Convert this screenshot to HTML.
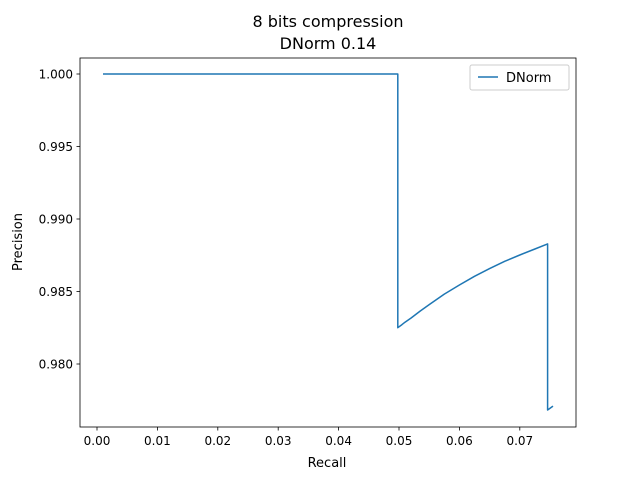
<!DOCTYPE html>
<html><head><meta charset="utf-8"><style>
body{margin:0;background:#fff;font-family:"Liberation Sans","DejaVu Sans",sans-serif}
svg text{font-family:"DejaVu Sans","Liberation Sans",sans-serif}
</style></head><body>
<svg id="chart" width="640" height="480" viewBox="0 0 640 480">
<rect width="640" height="480" fill="#fff"/>
<text x="328" y="27" text-anchor="middle" font-size="16">8 bits compression</text>
<text x="328" y="49" text-anchor="middle" font-size="16">DNorm 0.14</text>
<g id="axes"></g>
<path id="series" fill="none" stroke="#1f77b4" stroke-width="1.5" stroke-linejoin="round"/>
<rect x="80" y="58" width="496" height="369" fill="none" stroke="#000" stroke-width="0.8"/>
<g>
<rect x="470" y="65" width="99" height="25" rx="2" fill="#fff" stroke="#ccc"/>
<line x1="478" y1="77" x2="498" y2="77" stroke="#1f77b4" stroke-width="1.5"/>
<text x="506" y="82" font-size="13">DNorm</text>
</g>
<text x="327" y="467" text-anchor="middle" font-size="13">Recall</text>
<text transform="translate(22,242) rotate(-90)" text-anchor="middle" font-size="13">Precision</text>
</svg>
<script>
const recall=[0.001,0.0498,0.0498,0.0505,0.051,0.052,0.0535,0.055,0.0575,0.06,0.0625,0.065,0.0675,0.07,0.0725,0.0746,0.0746,0.0755];
const precision=[1.0,1.0,0.9825,0.98272,0.98288,0.98317,0.98365,0.9841,0.98482,0.98545,0.98605,0.98658,0.98708,0.98752,0.98793,0.98828,0.97683,0.9771];
const xTicks=[0,0.01,0.02,0.03,0.04,0.05,0.06,0.07];
const xTickLabels=["0.00","0.01","0.02","0.03","0.04","0.05","0.06","0.07"];
const yTicks=[0.98,0.985,0.99,0.995,1.0];
const yTickLabels=["0.980","0.985","0.990","0.995","1.000"];
const sx=v=>97+v*6040;
const sy=v=>364-(v-0.98)*14500;
const ns="http://www.w3.org/2000/svg";
const ax=document.getElementById('axes');
function mk(t,a){const e=document.createElementNS(ns,t);for(const k in a)e.setAttribute(k,a[k]);return e;}
xTicks.forEach((v,i)=>{
 const l=mk('line',{x1:sx(v),x2:sx(v),y1:427,y2:430.5,stroke:'#000','stroke-width':0.8});
 
 
 ax.appendChild(l);
 const t=mk('text',{x:sx(v),y:445,'text-anchor':'middle','font-size':12});
 
 
 t.textContent=xTickLabels[i];ax.appendChild(t);
});
yTicks.forEach((v,i)=>{
 const l=mk('line',{x1:76.5,x2:80,y1:sy(v),y2:sy(v),stroke:'#000','stroke-width':0.8});
 
 
 ax.appendChild(l);
 const t=mk('text',{x:73,y:sy(v)+4.5,'text-anchor':'end','font-size':12});
 
 
 t.textContent=yTickLabels[i];ax.appendChild(t);
});
document.getElementById('series').setAttribute('d',recall.map((r,i)=>(i?'L':'M')+sx(r).toFixed(1)+','+sy(precision[i]).toFixed(1)).join(' '));
</script>
</body></html>
